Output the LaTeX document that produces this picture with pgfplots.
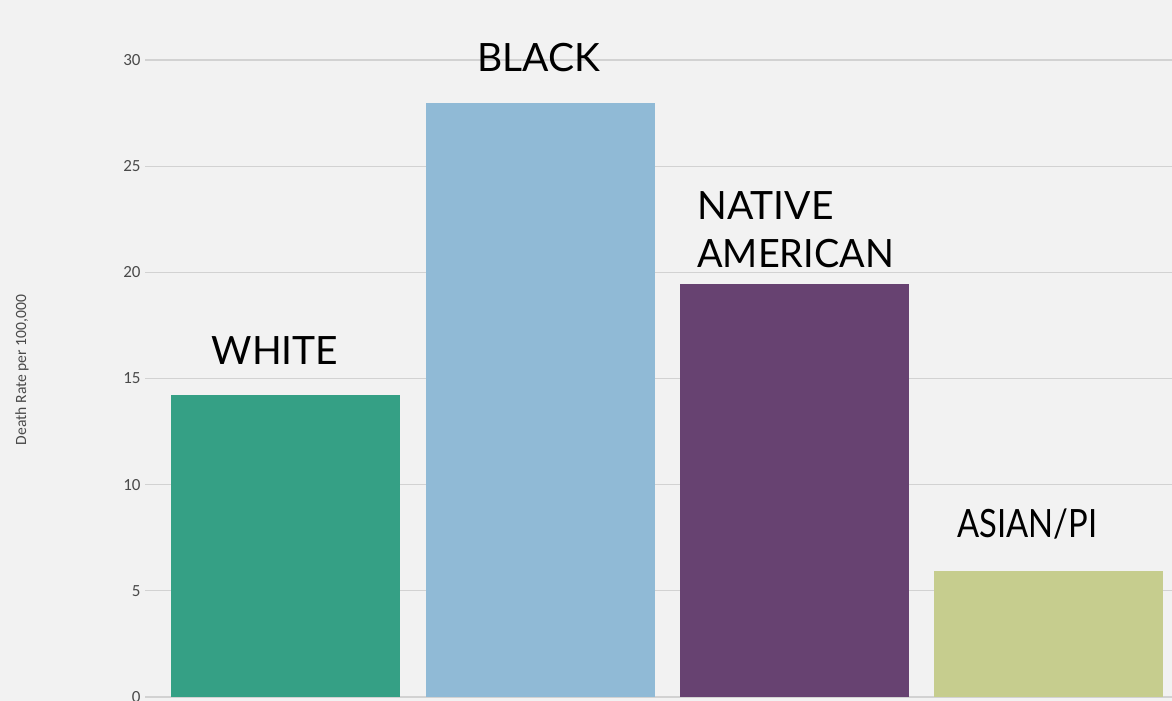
\documentclass[border=0pt]{standalone}
\usepackage{fontspec}
\setmainfont{Carlito}
\newfontfamily\labelfont{Lato}
\usepackage{pgfplots}
\pgfplotsset{compat=1.18}
\definecolor{bg}{HTML}{F2F2F2}
\definecolor{gridc}{HTML}{D2D2D2}
\definecolor{cwhite}{HTML}{35A085}
\definecolor{cblack}{HTML}{90BAD6}
\definecolor{cnative}{HTML}{674271}
\definecolor{casian}{HTML}{C6CD8E}
\definecolor{tickc}{HTML}{4A4A4A}
\begin{document}
\begin{tikzpicture}
\fill[bg] (0,0) rectangle (586pt,350.5pt);
\begin{axis}[
  at={(72.5pt,2pt)}, anchor=south west,
  scale only axis, width=513.5pt, height=318.5pt,
  xmin=-0.554, xmax=3.484, ymin=0, ymax=30,
  ytick={0,5,...,30}, xtick=\empty,
  axis line style={draw=none},
  ymajorgrids, grid style={gridc, line width=0.6pt},
  ytick style={draw=none},
  yticklabel style={inner sep=0pt, xshift=-2pt, font=\fontsize{8.5}{10}\selectfont, text=tickc},
  /pgf/number format/assume math mode=true,
  ybar, bar width=114.5pt, bar shift=0pt,
  clip=false,
]
\addplot[fill=cwhite, draw=none] coordinates {(0,14.22)};
\addplot[fill=cblack, draw=none] coordinates {(1,27.98)};
\addplot[fill=cnative, draw=none] coordinates {(2,19.45)};
\addplot[fill=casian, draw=none] coordinates {(3,5.93)};
\node[anchor=base, inner sep=0pt, font=\labelfont\fontsize{19.5}{22}\selectfont] at (axis cs:-0.043,15.64) {WHITE};
\node[anchor=base, inner sep=0pt, font=\labelfont\fontsize{19.5}{22}\selectfont] at (axis cs:0.993,29.44) {BLACK};
\node[anchor=base west, inner sep=0pt, font=\labelfont\fontsize{19.5}{22}\selectfont] at (axis cs:1.616,22.47) {NATIVE};
\node[anchor=base west, inner sep=0pt, font=\labelfont\fontsize{19.5}{22}\selectfont] at (axis cs:1.616,20.21) {\scalebox{0.97}[1]{AMERICAN}};
\node[anchor=base, inner sep=0pt, font=\labelfont\fontsize{19.5}{22}\selectfont] at (axis cs:2.916,7.49) {\scalebox{0.84}[1]{ASIAN/PI}};
\end{axis}
\node[rotate=90, inner sep=0pt, text=tickc, font=\fontsize{7.8}{9}\selectfont] at (11pt,165.5pt) {Death Rate per 100,000};
\pgfresetboundingbox
\path[use as bounding box] (0,0) rectangle (586pt,350.5pt);
\end{tikzpicture}
\end{document}
